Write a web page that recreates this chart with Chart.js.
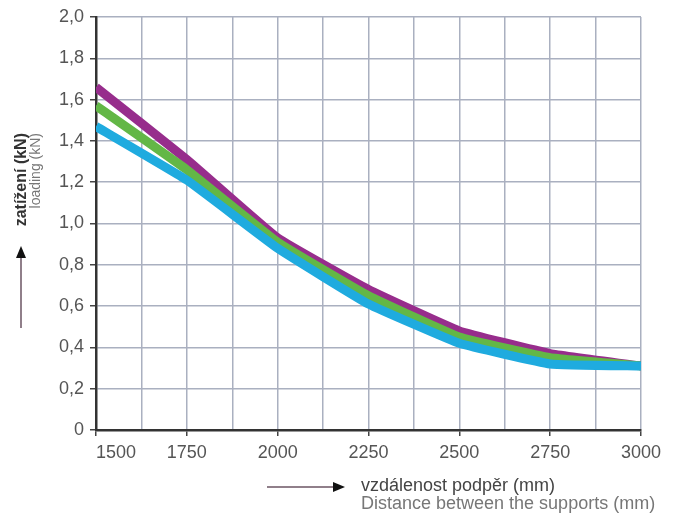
<!DOCTYPE html>
<html>
<head>
<meta charset="utf-8">
<script src="https://cdn.jsdelivr.net/npm/chart.js@4/dist/chart.umd.min.js"></script>
<style>
  html, body { margin: 0; padding: 0; background: #fff; }
  #wrap { width: 675px; height: 517px; }
</style>
</head>
<body>
<div id="wrap"><canvas id="graf"></canvas></div>
<script>
// vzdálenost podpěr (mm)
const vzdalenosti = [1500, 1750, 2000, 2250, 2500, 2750, 3000];
// zatížení (kN) pro tři řady
const fialova = [1.66, 1.31, 0.93, 0.68, 0.48, 0.37, 0.31];
const zelena  = [1.57, 1.26, 0.91, 0.65, 0.45, 0.35, 0.31];
const modra   = [1.47, 1.21, 0.88, 0.61, 0.42, 0.32, 0.31];

const xPopisky = [1500, 1750, 2000, 2250, 2500, 2750, 3000];
const yPopisky = [0, 0.2, 0.4, 0.6, 0.8, 1.0, 1.2, 1.4, 1.6, 1.8, 2.0];

const osaY = ["zatížení (kN)", "loading (kN)"];
const osaX = ["vzdálenost podpěr (mm)", "Distance between the supports (mm)"];

const body = arr => vzdalenosti.map((x, i) => ({ x, y: arr[i] }));

function sipka(ctx, x1, y1, x2, y2) {
  const a = Math.atan2(y2 - y1, x2 - x1);
  ctx.save();
  ctx.strokeStyle = "#6b5563";
  ctx.lineWidth = 1.5;
  ctx.beginPath();
  ctx.moveTo(x1, y1);
  ctx.lineTo(x2 - 8 * Math.cos(a), y2 - 8 * Math.sin(a));
  ctx.stroke();
  ctx.fillStyle = "#111";
  ctx.translate(x2, y2);
  ctx.rotate(a);
  ctx.beginPath();
  ctx.moveTo(0, 0);
  ctx.lineTo(-12, -5);
  ctx.lineTo(-12, 5);
  ctx.closePath();
  ctx.fill();
  ctx.restore();
}

const popiskyOs = {
  id: "popiskyOs",
  afterDraw(chart) {
    const ctx = chart.ctx;
    ctx.save();
    // osa y
    ctx.translate(22, 133);
    ctx.rotate(-Math.PI / 2);
    ctx.textAlign = "right";
    ctx.textBaseline = "middle";
    ctx.font = "bold 16px 'Liberation Sans', Arial, sans-serif";
    ctx.fillStyle = "#333";
    ctx.fillText(osaY[0], 0, 0);
    ctx.font = "14px 'Liberation Sans', Arial, sans-serif";
    ctx.fillStyle = "#777";
    ctx.fillText(osaY[1], 0, 14);
    ctx.restore();
    sipka(ctx, 21, 328, 21, 246);

    // osa x
    sipka(ctx, 267, 487, 345, 487);
    ctx.save();
    ctx.textAlign = "left";
    ctx.textBaseline = "middle";
    ctx.font = "18px 'Liberation Sans', Arial, sans-serif";
    ctx.fillStyle = "#444";
    ctx.fillText(osaX[0], 361, 486);
    ctx.fillStyle = "#777";
    ctx.fillText(osaX[1], 361, 504);
    ctx.restore();
  }
};

new Chart(document.getElementById("graf"), {
  type: "line",
  data: {
    datasets: [
      { data: body(modra), borderColor: "#1fabdf" },
      { data: body(zelena), borderColor: "#63b746" },
      { data: body(fialova), borderColor: "#972d8c" }
    ]
  },
  options: {
    responsive: true,
    maintainAspectRatio: false,
    animation: false,
    layout: { padding: { top: 17, right: 34, left: 0, bottom: 0 } },
    elements: {
      line: { borderWidth: 9, tension: 0.1, borderCapStyle: "butt" },
      point: { radius: 0 }
    },
    plugins: { legend: { display: false }, tooltip: { enabled: false } },
    scales: {
      x: {
        type: "linear",
        min: 1500,
        max: 3000,
        afterFit: s => { s.height = 87; },
        ticks: {
          stepSize: 125,
          autoSkip: false,
          maxRotation: 0,
          padding: 6,
          color: "#555",
          font: { size: 18, family: "'Liberation Sans', Arial, sans-serif" },
          callback: (v, i) => {
            if (!xPopisky.includes(v)) return "";
            return v === xPopisky[0] ? "        " + v : String(v);
          }
        },
        grid: {
          color: "#aab0c0",
          lineWidth: 1.5,
          tickLength: 6,
          tickColor: c => (c.tick && xPopisky.includes(c.tick.value)) ? "#444" : "rgba(0,0,0,0)"
        },
        border: { color: "#333", width: 2.5 }
      },
      y: {
        min: 0,
        max: 2,
        afterFit: s => { s.width = 96; },
        afterBuildTicks: s => { s.ticks = yPopisky.map(v => ({ value: v })); },
        ticks: {
          padding: 6,
          color: "#555",
          font: { size: 18, family: "'Liberation Sans', Arial, sans-serif" },
          callback: v => v === 0 ? "0" : v.toFixed(1).replace(".", ",")
        },
        grid: {
          color: "#aab0c0",
          lineWidth: 1.5,
          tickLength: 6,
          tickColor: "#444"
        },
        border: { color: "#333", width: 2.5 }
      }
    }
  },
  plugins: [popiskyOs]
});
</script>
</body>
</html>
